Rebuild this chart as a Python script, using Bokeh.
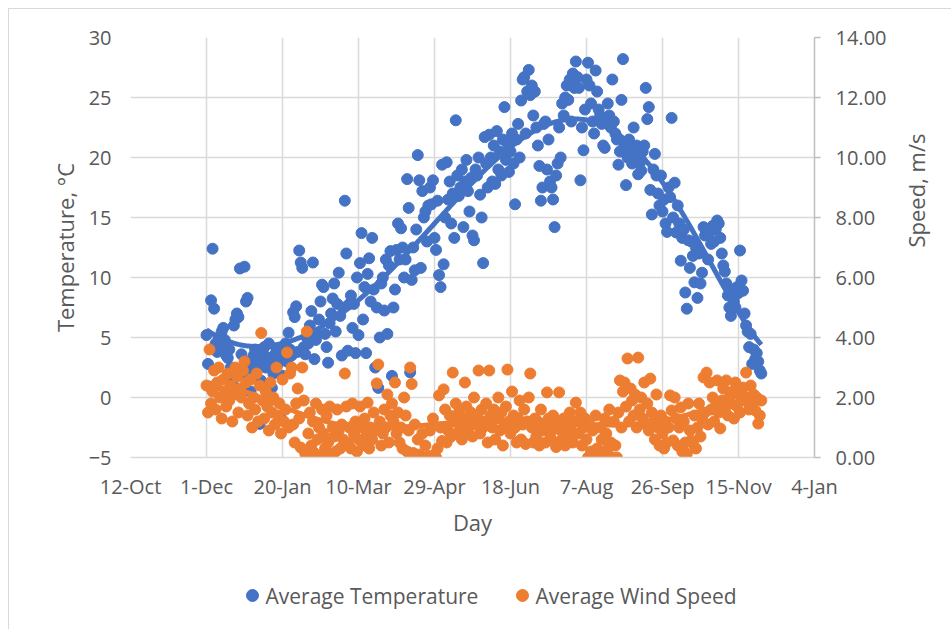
import math
import numpy as np
from bokeh.plotting import figure
from bokeh.layouts import column
from bokeh.core.properties import value
from bokeh.models import (Range1d, LinearAxis, FixedTicker, NumeralTickFormatter)
from bokeh.embed import file_html
from bokeh.resources import INLINE

# ---------------- data ----------------
tick_days = [0, 50, 100, 150, 200, 250, 300, 350, 400, 450]
tick_labels = ["12-Oct", "1-Dec", "20-Jan", "10-Mar", "29-Apr", "18-Jun",
               "7-Aug", "26-Sep", "15-Nov", "4-Jan"]
series_names = ["Average Temperature", "Average Wind Speed"]
first_day = 50  # 1-Dec is 50 days after 12-Oct

# Average temperature (deg C), one value per day, Dec .. Nov
dec_t = [5.2, 2.8, 0.9, 8.1, 12.4, 7.4, 4.5, 3.8, 5.0, 4.2, 5.5, 5.8, 4.8, 3.5, 3.3, 4.0,
         2.5, 1.2, 6.0, 6.5, 7.0, 6.7, 10.75, 3.6, 2.0, 10.9, 8.0, 8.3, 3.0, 0.5, 2.4]
jan_t = [3.5, 4.0, 2.5, 3.2, -2.2, 1.4, 3.8, 4.2, 2.5, 3.0, 4.5, 3.3, 0.8, 2.0, 3.6, 4.1,
         2.8, 3.4, -1.75, 1.8, 3.8, 4.5, 3.0, 5.4, 4.0, 3.5, 7.1, 6.7, 7.6, 3.8, 12.25]
feb_t = [11.25, 10.8, 4.2, 3.6, 5.0, 4.5, 6.0, 7.2, 11.25, 3.2, 4.8, 5.3, 6.5, 8.0, 9.4,
         9.2, 5.3, 4.2, 2.9, 6.2, 7.0, 8.25, 9.5, 5.5, 7.8, 10.4, 6.8, 3.5, 7.5]
mar_t = [16.4, 12.0, 3.9, 7.8, 8.5, 5.8, 7.8, 3.7, 10.0, 5.2, 11.2, 13.7, 6.5, 9.2, 3.7,
         10.3, 11.6, 8.0, 13.3, 9.0, 2.5, 7.5, 0.8, 5.0, 9.5, 10.0, 7.25, 11.5, 5.3, 11.0, 12.2]
apr_t = [1.8, 7.5, 9.0, 12.3, 14.5, 11.5, 14.1, 12.5, 10.0, 11.5, 18.2, 15.8, 2.1, 9.8, 12.5,
         10.6, 14.0, 20.2, 18.1, 10.8, 17.2, 15.0, 15.5, 13.0, 16.0, 17.5, 16.1, 18.1, 13.3, 12.3]
may_t = [16.4, 10.2, 9.2, 19.4, 11.1, 15.0, 19.6, 16.5, 18.0, 14.5, 17.0, 13.3, 23.1, 18.5,
         16.8, 17.5, 19.0, 14.2, 18.0, 19.8, 17.2, 15.5, 18.3, 13.5, 13.1, 19.0, 18.5, 20.0,
         16.9, 15.0, 11.2]
jun_t = [21.7, 19.5, 17.5, 21.9, 20.0, 18.0, 21.0, 17.8, 22.2, 19.0, 20.5, 18.5, 21.5, 24.2,
         19.8, 21.2, 18.8, 20.5, 22.0, 19.5, 16.1, 21.5, 22.8, 20.0, 24.75, 26.5, 26.7, 22.0,
         25.5, 27.3]
jul_t = [25.2, 26.0, 23.5, 25.5, 22.5, 21.0, 19.3, 16.4, 17.5, 22.8, 23.0, 19.0, 21.5, 18.0,
         17.5, 16.5, 14.2, 18.5, 19.5, 22.5, 20.0, 24.5, 23.5, 25.0, 26.0, 24.8, 26.5, 23.0,
         27.0, 25.8, 28.0]
aug_t = [26.7, 25.8, 18.1, 22.5, 20.6, 24.0, 26.5, 27.9, 26.0, 24.5, 23.0, 22.0, 27.25, 25.5,
         24.0, 23.5, 22.8, 21.0, 20.8, 23.0, 24.5, 23.5, 22.5, 26.5, 23.0, 22.0, 21.5, 19.4,
         20.5, 24.8, 28.2]
sep_t = [21.0, 17.7, 20.0, 21.5, 20.5, 19.5, 22.5, 20.0, 21.0, 18.6, 19.5, 18.9, 20.5, 21.0,
         25.8, 23.2, 24.2, 17.3, 15.25, 19.0, 20.3, 18.5, 17.0, 16.0, 18.5, 15.5, 16.5, 14.5,
         13.8, 17.5]
oct_t = [16.7, 23.3, 15.0, 17.9, 13.75, 16.0, 14.5, 11.4, 13.3, 14.0, 8.75, 7.4, 13.1, 10.8,
         13.0, 11.8, 9.6, 12.5, 8.3, 12.0, 9.5, 10.4, 14.2, 13.5, 14.0, 11.5, 13.8, 12.8, 14.3,
         13.0, 14.0]
nov_t = [14.75, 14.5, 13.3, 12.0, 11.0, 10.5, 9.5, 8.5, 7.5, 6.8, 9.0, 8.0, 7.5, 9.2, 8.7,
         12.25, 9.75, 8.9, 7.0, 6.0, 5.5, 4.2, 5.3, 2.8, 4.0, 3.2, 3.7, 3.0, 2.25, 2.0]

# Average wind speed (m/s), one value per day, Dec .. Nov
dec_w = [2.4, 1.5, 3.6, 1.8, 2.2, 2.9, 1.6, 2.5, 3.0, 2.0, 1.3, 2.6, 2.2, 1.7, 2.8, 1.9, 2.4,
         1.2, 2.1, 3.0, 2.7, 1.5, 2.3, 2.0, 2.9, 3.2, 2.5, 1.4, 1.8, 2.6, 1.0]
jan_w = [2.0, 1.6, 2.8, 1.2, 2.4, 4.15, 1.9, 1.3, 2.2, 1.7, 0.9, 2.5, 1.5, 2.0, 1.1, 3.0, 1.4,
         1.8, 0.8, 2.6, 1.2, 1.6, 3.5, 1.0, 2.8, 3.0, 1.1, 0.5, 1.8, 2.3, 1.3]
feb_w = [0.33, 3.0, 1.9, 0.13, 4.2, 0.8, 1.5, 0.4, 1.2, 0.15, 1.8, 0.6, 1.0, 0.0, 1.6, 0.8,
         0.3, 1.4, 0.5, 1.7, 0.1, 1.0, 0.7, 0.2, 1.6, 0.9, 0.3, 1.1, 0.6]
mar_w = [2.8, 1.7, 0.5, 1.0, 0.3, 1.8, 0.8, 1.2, 0.2, 0.6, 1.7, 1.0, 0.4, 1.3, 0.7, 1.83, 0.3,
         1.0, 0.6, 1.5, 0.9, 2.47, 3.1, 1.2, 0.4, 0.8, 1.6, 1.0, 2.1, 0.5, 1.4]
apr_w = [1.8, 1.2, 2.5, 0.8, 1.5, 0.5, 1.0, 0.3, 2.0, 1.4, 0.2, 0.9, 3.0, 2.45, 0.15, 1.1, 0.0,
         0.6, 0.1, 0.0, 0.8, 0.0, 0.4, 0.0, 0.05, 0.9, 0.0, 1.3, 0.1, 0.0]
may_w = [0.3, 2.07, 1.0, 0.55, 2.27, 1.6, 0.5, 0.9, 1.4, 0.7, 2.83, 1.2, 1.8, 0.8, 1.5, 1.0,
         0.6, 1.3, 2.5, 1.7, 0.9, 1.2, 1.5, 0.7, 2.0, 1.1, 1.4, 2.9, 0.8, 1.6, 1.0]
jun_w = [1.2, 1.8, 0.5, 2.9, 1.4, 1.0, 1.6, 0.6, 1.3, 2.0, 0.9, 1.5, 0.4, 1.1, 1.7, 2.93, 1.2,
         0.8, 2.2, 1.4, 1.0, 0.5, 1.3, 1.9, 0.6, 1.1, 1.6, 0.45, 1.2, 2.0]
jul_w = [2.8, 1.0, 0.5, 1.3, 0.7, 1.2, 0.4, 1.6, 0.9, 1.1, 0.5, 2.17, 1.3, 0.8, 0.6, 1.4, 1.0,
         0.35, 1.2, 2.17, 0.9, 0.6, 1.3, 0.4, 1.1, 0.7, 1.5, 0.9, 0.5, 1.2, 1.83]
aug_w = [1.2, 0.8, 1.5, 0.4, 1.0, 1.3, 0.6, 0.0, 1.1, 0.2, 0.9, 0.0, 1.4, 0.3, 0.0, 1.0, 0.6,
         0.1, 1.3, 0.8, 0.3, 1.6, 0.5, 0.0, 1.2, 0.4, 0.0, 1.5, 2.57, 1.0, 2.2]
sep_w = [2.5, 1.7, 3.3, 1.2, 2.3, 1.9, 1.4, 2.1, 1.0, 3.33, 1.6, 2.0, 1.3, 2.5, 1.1, 1.8, 0.9,
         2.63, 1.5, 1.2, 0.6, 2.1, 1.0, 0.4, 1.4, 0.8, 0.3, 1.2, 0.5, 1.0]
oct_w = [2.07, 1.57, 0.57, 2.0, 1.3, 0.4, 1.0, 1.67, 0.2, 1.2, 0.5, 0.13, 1.8, 0.9, 0.57, 0.47,
         1.4, 0.3, 1.0, 1.8, 0.7, 1.3, 2.67, 1.5, 2.83, 1.1, 2.5, 1.6, 2.0, 1.2, 1.7]
nov_w = [2.57, 1.5, 0.97, 1.9, 2.3, 1.6, 2.57, 1.4, 2.0, 1.8, 2.2, 1.3, 2.5, 1.7, 2.1, 1.5,
         2.2, 2.33, 1.9, 2.83, 2.0, 1.6, 2.4, 1.8, 2.1, 1.57, 2.0, 1.13, 1.4, 1.9]

temp = dec_t + jan_t + feb_t + mar_t + apr_t + may_t + jun_t + jul_t + aug_t + sep_t + oct_t + nov_t
wind = dec_w + jan_w + feb_w + mar_w + apr_w + may_w + jun_w + jul_w + aug_w + sep_w + oct_w + nov_w
days = np.arange(first_day, first_day + len(temp))

# polynomial trendlines (order 6), as in the spreadsheet chart
def poly_trend(x, y, order=6):
    xs = (x - x.mean()) / x.std()
    c = np.polyfit(xs, np.asarray(y, float), order)
    return np.polyval(c, xs)

temp_trend = poly_trend(days, temp)
wind_trend = poly_trend(days, wind)

# ---------------- figure ----------------
BLUE = "#4472C4"
ORANGE = "#ED7D31"
TXT = "#595959"
GRID = "#d9d9d9"
FONT = "Open Sans"

p = figure(width=942, height=561, output_backend="svg", toolbar_location=None,
           x_range=Range1d(0, 450), y_range=Range1d(-5, 30),
           min_border_left=121, min_border_right=137, min_border_top=28,
           min_border_bottom=113)
p.extra_y_ranges = {"speed": Range1d(0, 14)}
p.outline_line_color = None
p.background_fill_color = "white"
p.border_fill_color = "white"

p.scatter(days, temp, size=11, color=BLUE)
p.line(days, temp_trend, line_width=5, color=BLUE)
p.scatter(days, wind, size=11, color=ORANGE, y_range_name="speed")
p.line(days, wind_trend, line_width=5, color=ORANGE, y_range_name="speed")

# grids
p.xgrid.grid_line_color = GRID
p.xgrid.grid_line_width = 1.5
p.ygrid.grid_line_color = GRID
p.ygrid.grid_line_width = 1.5

# x axis
xa = p.xaxis[0]
xa.ticker = FixedTicker(ticks=tick_days)
xa.major_label_overrides = {d: lab for d, lab in zip(tick_days, tick_labels)}
xa.axis_label = "Day"
xa.axis_line_color = GRID
xa.axis_line_width = 1.5
xa.major_tick_line_color = None
xa.minor_tick_line_color = None
xa.major_label_standoff = 9
xa.axis_label_standoff = 4

# left axis
ya = p.yaxis[0]
ya.ticker = FixedTicker(ticks=[-5, 0, 5, 10, 15, 20, 25, 30])
ya.axis_label = "Temperature, \u00b0C"
ya.axis_line_color = None
ya.major_tick_line_color = None
ya.minor_tick_line_color = None
ya.major_label_standoff = 13
ya.axis_label_standoff = 6

# right axis
ra = LinearAxis(y_range_name="speed", axis_label="Speed, m/s",
                ticker=FixedTicker(ticks=[0, 2, 4, 6, 8, 10, 12, 14]),
                formatter=NumeralTickFormatter(format="0.00"))
ra.axis_line_color = "#bfbfbf"
ra.axis_line_width = 1.5
ra.major_tick_line_color = "#bfbfbf"
ra.major_tick_line_width = 1.5
ra.major_tick_out = 6
ra.major_tick_in = 0
ra.minor_tick_line_color = None
ra.major_label_standoff = 15
ra.axis_label_standoff = 27
ra.axis_label_orientation = math.pi / 2
p.add_layout(ra, "right")

for ax in [xa, ya, ra]:
    ax.major_label_text_font = FONT
    ax.major_label_text_font_size = "20px"
    ax.major_label_text_color = TXT
    ax.axis_label_text_font = FONT
    ax.axis_label_text_font_size = "22px"
    ax.axis_label_text_font_style = "normal"
    ax.axis_label_text_color = TXT

# ---------------- legend strip ----------------
# the column aligns this strip's frame with the main frame (page x 130..814)
pl = figure(width=942, height=59, output_backend="svg", toolbar_location=None,
            x_range=Range1d(130, 814), y_range=Range1d(629, 570),
            x_axis_location=None, y_axis_location=None,
            min_border=0, min_border_left=0, min_border_right=0,
            min_border_top=0, min_border_bottom=0)
pl.grid.visible = False
pl.outline_line_color = None
pl.background_fill_color = "white"
pl.border_fill_color = "white"

legend_marker_x = [252, 522]
legend_text_x = [265, 535]
legend_y = [595, 595]
pl.scatter(legend_marker_x, legend_y, size=12, color=[BLUE, ORANGE])
pl.text(legend_text_x, legend_y, text=series_names, text_font=value(FONT),
        text_font_size="21px", text_color=TXT, text_align="left",
        text_baseline="middle")

layout = column(p, pl, spacing=0,
                styles={"border-left": "1px solid #d9d9d9", "border-top": "1px solid #d9d9d9",
                        "margin-left": "8px", "margin-top": "8px"})

open("out.html", "w").write(file_html(layout, INLINE))
